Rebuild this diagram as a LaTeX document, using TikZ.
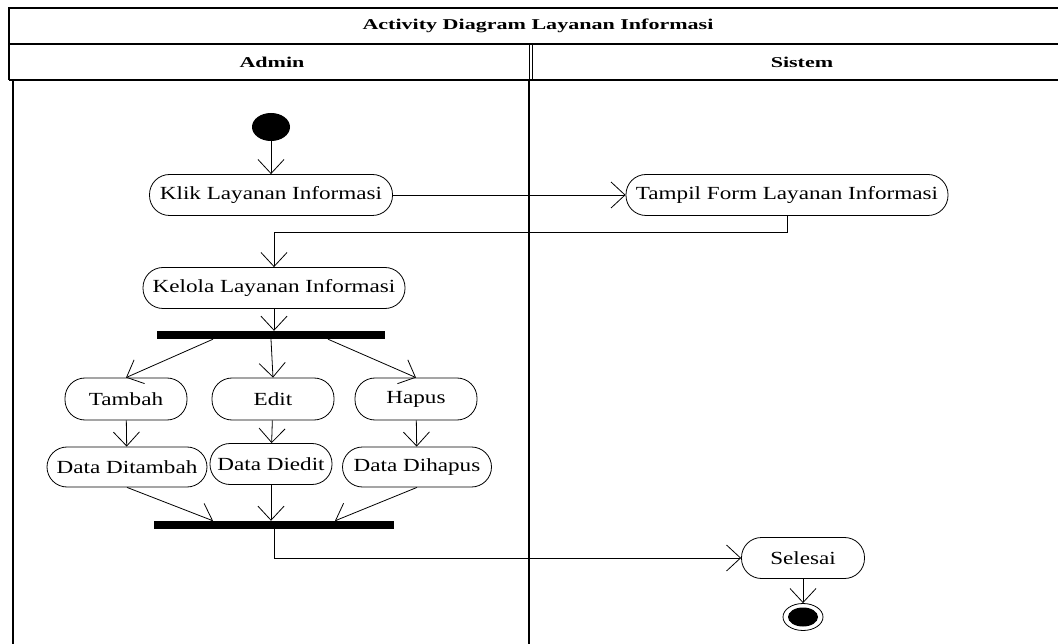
\documentclass[tikz,border=0pt]{standalone}
\usepackage{fontspec}
\setmainfont{Liberation Serif}
\newfontfamily\actfont[FakeStretch=1.25]{Liberation Serif}
\newfontfamily\lanefont[FakeStretch=1.47]{Liberation Serif}
\usetikzlibrary{arrows.meta,shapes.geometric}

\begin{document}
\begin{tikzpicture}[x=1pt,y=-1pt,
	act/.style={draw,line width=0.8pt,rounded corners=20pt,minimum height=41pt,inner sep=0pt,font=\actfont\fontsize{18.5}{21}\selectfont},
	syncbar/.style={fill=black,minimum height=8pt,inner sep=0pt},
	flow/.style={-{Straight Barb[length=14pt,width=26pt]},line width=0.8pt},
	lane/.style={font=\lanefont\bfseries\fontsize{15}{17}\selectfont}]
	\useasboundingbox (0,0) rectangle (1058,644);
	\begin{scope}
	% swimlane frame
	\draw [line width=1.5pt] (9,80) -- (9,8) -- (1062,8);
	\draw [line width=1.2pt] (9,44) -- (1062,44);
	\draw [line width=1.2pt] (9,80) -- (1062,80);
	\draw [line width=1pt] (529,44) -- (529,80);
	\draw [line width=1pt] (532,44) -- (532,80);
	\draw [line width=1.5pt] (13,80) -- (13,646);
	\draw [line width=1.5pt] (529,80) -- (529,646);
	\node [lane] (title) at (538,26) {Activity Diagram Layanan Informasi};
	\node [lane] (admin) at (272,62) {Admin};
	\node [lane] (sistem) at (802,62) {Sistem};
	\end{scope}
	\begin{scope}
	\node [ellipse,fill=black,minimum width=38pt,minimum height=28pt,inner sep=0pt] (start) at (271,127) {};
	\node [act,minimum width=243pt] (klik) at (271,195) {Klik Layanan Informasi};
	\node [act,minimum width=322pt] (tampil) at (787,195) {Tampil Form Layanan Informasi};
	\node [act,minimum width=262pt] (kelola) at (274,288) {Kelola Layanan Informasi};
	\node [syncbar,minimum width=228pt] (fork) at (271,335) {};
	\node [act,minimum width=122pt,minimum height=42pt] (tambah) at (126,399) {Tambah};
	\node [act,minimum width=122pt,minimum height=42pt] (edit) at (273,399) {Edit};
	\node [act,minimum width=122pt,minimum height=42pt] (hapus) at (416,399) {Hapus};
	\node [act,minimum width=160pt,minimum height=40pt] (ditambah) at (127,467) {Data Ditambah};
	\node [act,minimum width=122pt] (diedit) at (271,464) {Data Diedit};
	\node [act,minimum width=149pt,minimum height=40pt] (dihapus) at (417,467) {Data Dihapus};
	\node [syncbar,minimum width=240pt] (join) at (274,525) {};
	\node [act,minimum width=123pt] (selesai) at (803,558) {Selesai};
	\node [ellipse,draw,line width=0.8pt,minimum width=40pt,minimum height=27pt,inner sep=0pt] (finish) at (803,617) {};
	\node [ellipse,fill=black,minimum width=30pt,minimum height=19pt,inner sep=0pt] (finishdot) at (finish) {};
	\end{scope}
	% flows
	\draw [flow] (start) -- (klik);
	\draw [flow] (klik) -- (tampil);
	\draw [flow] (tampil.south) -- ++(0,17) -| (kelola.north);
	\draw [flow] (kelola.south) -- (kelola.south |- fork.north);
	\draw [flow] ([xshift=-58pt]fork.south) -- (tambah.north);
	\draw [flow] (fork.south) -- (edit.north);
	\draw [flow] ([xshift=57pt]fork.south) -- (hapus.north);
	\draw [flow] (tambah) -- (ditambah);
	\draw [flow] (edit) -- (diedit);
	\draw [flow] (hapus) -- (dihapus);
	\draw [flow] (ditambah.south) -- ([xshift=-61pt]join.north);
	\draw [flow] (diedit.south) -- (diedit.south |- join.north);
	\draw [flow] (dihapus.south) -- ([xshift=61pt]join.north);
	\draw [flow] (join.south) |- (selesai.west);
	\draw [flow] (selesai) -- (finish);
\end{tikzpicture}
\end{document}
